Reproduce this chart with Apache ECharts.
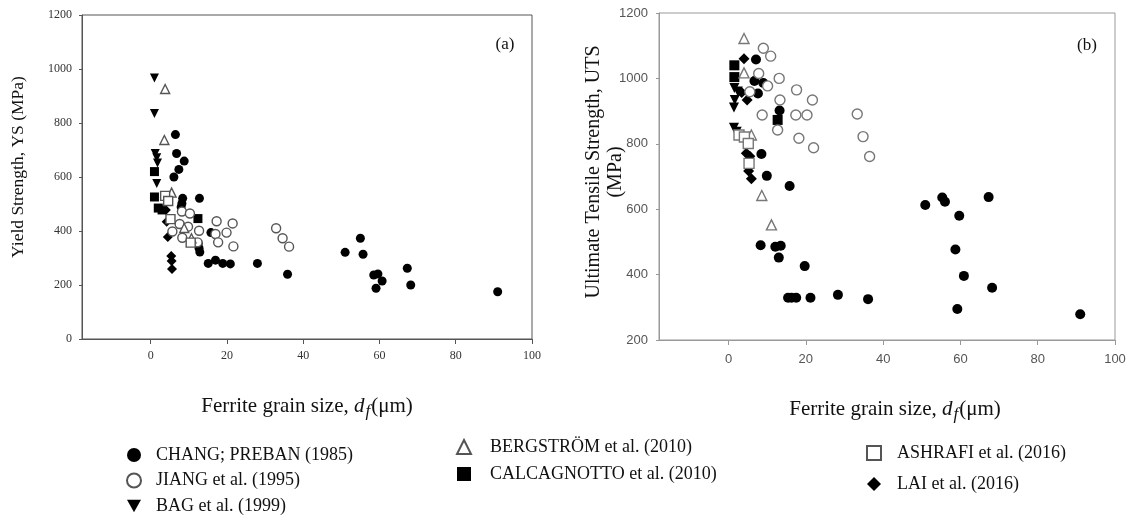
<!DOCTYPE html>
<html>
<head>
<meta charset="utf-8">
<script src="https://cdn.jsdelivr.net/npm/echarts@6/dist/echarts.min.js"></script>
<style>
  html, body { margin: 0; padding: 0; background: #fff; }
  #chart { width: 1130px; height: 518px; }
</style>
</head>
<body>
<div id="chart"></div>
<script>
// Ferrite grain size d_f (µm) vs. yield strength (panel a) and UTS (panel b)

const seriesNames = [
  'CHANG; PREBAN (1985)', 'JIANG et al. (1995)', 'BAG et al. (1999)',
  'BERGSTRÖM et al. (2010)', 'CALCAGNOTTO et al. (2010)',
  'ASHRAFI et al. (2016)', 'LAI et al. (2016)'
];

const xTickValues = [0, 20, 40, 60, 80, 100];

// ---- Panel (a): yield strength, MPa ----
const changYS = [[6.5,757],[6.8,687],[8.8,659],[7.4,628],[6.1,600],[8.4,521],[12.8,521],[8.2,502],[8.0,489],
  [15.8,394],[12.5,354],[12.7,336],[12.9,322],[15.1,280],[17.0,292],[18.9,280],[20.9,278],[28.0,280],[35.9,240],
  [51.0,321],[55.0,373],[55.7,314],[58.5,237],[59.6,241],[60.7,215],[59.1,188],[67.3,262],[68.2,200],[91.0,175]];
const jiangYS = [[8.2,472],[10.3,465],[7.6,426],[9.8,416],[5.7,398],[8.3,375],[12.7,401],[17.3,436],[21.5,428],
  [17.0,389],[19.9,394],[17.7,358],[21.7,343],[12.3,358],[32.9,410],[34.6,373],[36.3,342]];
const bagYS = [[1.0,967],[1.0,835],[1.2,687],[1.6,671],[1.8,652],[1.6,576]];
const bergstromYS = [[3.8,926],[3.6,737],[5.5,542],[8.8,411],[10.7,373]];
const calcagnottoYS = [[1.0,620],[1.0,526],[2.0,485],[3.0,478],[12.4,446]];
const ashrafiYS = [[3.8,530],[4.6,511],[5.2,444],[10.5,357]];
const laiYS = [[4.0,478],[4.2,434],[4.5,378],[5.4,307],[5.5,289],[5.6,259]];

// ---- Panel (b): ultimate tensile strength, MPa ----
const changUTS = [[7.1,1058],[6.7,992],[9.0,986],[7.6,954],[13.2,902],[8.5,769],[9.9,702],[15.8,671],[8.3,490],
  [12.1,485],[13.5,488],[13.0,452],[19.7,426],[15.4,329],[16.3,329],[17.5,329],[21.2,329],[28.3,338],[36.1,325],
  [50.9,613],[55.3,636],[56.0,623],[59.7,580],[58.7,477],[60.9,396],[68.2,360],[59.2,295],[91.0,279],[67.3,637]];
const jiangUTS = [[9.0,1092],[10.9,1068],[7.8,1015],[10.1,977],[13.1,1000],[5.5,959],[13.3,934],[17.6,965],
  [21.7,934],[8.7,888],[17.4,888],[20.3,888],[12.7,842],[18.2,817],[22.0,788],[33.3,891],[34.8,822],[36.5,761]];
const bagUTS = [[1.5,971],[2.4,960],[1.6,934],[1.4,911],[1.4,849],[2.1,837]];
const bergstromUTS = [[4.0,1122],[4.0,1017],[5.9,827],[8.6,642],[11.1,552]];
const calcagnottoUTS = [[1.5,1040],[1.5,1004],[12.7,873]];
const ashrafiUTS = [[2.7,827],[4.1,821],[5.1,801],[5.3,740]];
const laiUTS = [[4.0,1060],[3.4,957],[4.8,934],[4.6,771],[5.5,762],[5.2,717],[5.9,693]];

const panelA = [changYS, jiangYS, bagYS, bergstromYS, calcagnottoYS, ashrafiYS, laiYS];
const panelB = [changUTS, jiangUTS, bagUTS, bergstromUTS, calcagnottoUTS, ashrafiUTS, laiUTS];

// marker look per data source (down-pointing triangle drawn as a path)
const downTriangle = 'path://M0,0 L10,0 L5,9 Z';
const markers = [
  { symbol: 'circle',     filled: true },
  { symbol: 'circle',     filled: false },
  { symbol: downTriangle, filled: true },
  { symbol: 'triangle',   filled: false },
  { symbol: 'rect',       filled: true },
  { symbol: 'rect',       filled: false },
  { symbol: 'diamond',    filled: true }
];

const serif = '"Liberation Serif", "DejaVu Serif", serif';
const sans = '"Liberation Sans", Arial, sans-serif';

function makeSeries(data, idx, axis, hollowColor, size) {
  const m = markers[idx];
  return {
    type: 'scatter',
    name: seriesNames[idx],
    xAxisIndex: axis,
    yAxisIndex: axis,
    data: data,
    symbol: m.symbol,
    symbolSize: m.symbol === 'diamond' ? size + 1 : size,
    itemStyle: m.filled
      ? { color: '#000', borderWidth: 0, opacity: 1 }
      : { color: '#fff', borderColor: hollowColor, borderWidth: 1.4, opacity: 1 },
    emphasis: { disabled: true },
    z: m.filled ? 2 : 3
  };
}

const series = [];
panelA.forEach((d, i) => series.push(makeSeries(d, i, 0, '#555', 9)));
panelB.forEach((d, i) => series.push(makeSeries(d, i, 1, '#777', 10)));

const plain = v => String(v);

function xAxisCfg(grid, lineColor, labelStyle, margin) {
  return {
    gridIndex: grid, type: 'value', min: -18, max: 100,
    axisLine: { show: true, onZero: false, lineStyle: { color: lineColor, width: 1 } },
    axisTick: { show: true, customValues: xTickValues, length: 5, lineStyle: { color: lineColor } },
    axisLabel: Object.assign({ customValues: xTickValues, margin: margin, formatter: plain }, labelStyle),
    splitLine: { show: false }
  };
}
function yAxisCfg(grid, min, lineColor, labelStyle, margin) {
  return {
    gridIndex: grid, type: 'value', min: min, max: 1200, interval: 200,
    axisLine: { show: true, onZero: false, lineStyle: { color: lineColor, width: 1 } },
    axisTick: { show: true, length: 3, lineStyle: { color: lineColor } },
    axisLabel: Object.assign({ margin: margin, formatter: plain }, labelStyle),
    splitLine: { show: false }
  };
}

const serifTick = { fontFamily: serif, fontSize: 12, color: '#333' };
const sansTick = { fontFamily: sans, fontSize: 13, color: '#555' };

function legendCfg(names, left, top, gap, textPad) {
  return {
    data: names, orient: 'vertical', left: left, top: top,
    itemGap: gap, itemWidth: 14, itemHeight: 14,
    textStyle: { fontFamily: serif, fontSize: 18, color: '#111', lineHeight: 18, padding: [0, 0, 0, textPad] },
    selectedMode: false, padding: 0
  };
}

function titleText(x, y, text, size, rotation) {
  return {
    type: 'text', x: x, y: y, rotation: rotation || 0,
    style: {
      text: text, fill: '#111', font: size + 'px ' + serif,
      align: 'center', verticalAlign: 'middle',
      textAlign: 'center', textVerticalAlign: 'middle', lineHeight: 22
    }
  };
}
function grainTitle(x, y) {
  return {
    type: 'text', x: x, y: y,
    style: {
      text: 'Ferrite grain size, {d|d}{f|f}(μm)',
      fill: '#111', font: '21px ' + serif,
      align: 'center', verticalAlign: 'middle',
      textAlign: 'center', textVerticalAlign: 'middle',
      rich: {
        d: { fontFamily: serif, fontSize: 21, fontStyle: 'italic', fill: '#111', color: '#111' },
        f: { fontFamily: serif, fontSize: 17, fontStyle: 'italic', fill: '#111', color: '#111', padding: [11, 1, 0, 1] }
      }
    }
  };
}

const option = {
  animation: false,
  backgroundColor: '#fff',
  grid: [
    { left: 82, top: 15, width: 450, height: 324, show: true, borderColor: '#555', borderWidth: 1 },
    { left: 659, top: 13, width: 456, height: 327, show: true, borderColor: '#999', borderWidth: 1 }
  ],
  xAxis: [
    xAxisCfg(0, '#555', serifTick, 11),
    xAxisCfg(1, '#999', sansTick, 13)
  ],
  yAxis: [
    yAxisCfg(0, 0, '#555', serifTick, 10),
    yAxisCfg(1, 200, '#999', sansTick, 11)
  ],
  legend: [
    legendCfg(seriesNames.slice(0, 3), 126, 446, 7.5, 10),
    legendCfg(seriesNames.slice(3, 5), 456, 438, 9, 14),
    legendCfg(seriesNames.slice(5, 7), 866, 444, 13, 11)
  ],
  graphic: [
    titleText(18, 167, 'Yield Strength, YS (MPa)', 17.5, Math.PI / 2),
    titleText(605, 172, 'Ultimate Tensile Strength, UTS\n(MPa)', 20, Math.PI / 2),
    titleText(505, 45, '(a)', 17),
    titleText(1087, 46, '(b)', 17),
    grainTitle(307, 406),
    grainTitle(895, 409)
  ],
  series: series
};

const chart = echarts.init(document.getElementById('chart'), null, { renderer: 'canvas' });
chart.setOption(option);
</script>
</body>
</html>
